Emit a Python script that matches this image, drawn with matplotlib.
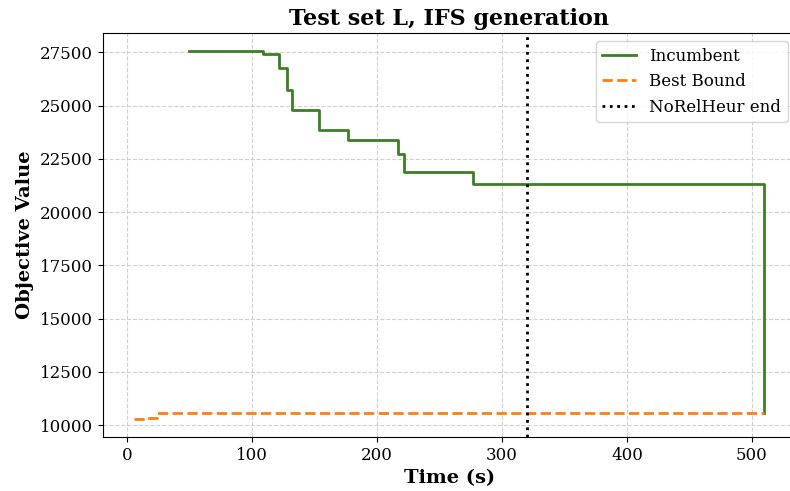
import matplotlib
matplotlib.use("Agg")
import matplotlib.pyplot as plt

plt.rcParams['font.family'] = 'DejaVu Serif'

# incumbent (step, post)
inc_time = [50, 109, 122, 128, 132, 154, 177, 217, 222, 277, 510, 510]
inc_val = [27550, 27420, 26780, 25720, 24810, 23870, 23400, 22710, 21870, 21300, 21300, 10570]

# best bound
bnd_time = [6, 16, 24, 510]
bnd_val = [10310, 10360, 10570, 10570]

norelheur_end = 320

fig, ax = plt.subplots(figsize=(7.9, 4.91), dpi=100)
ax.step(inc_time, inc_val, where='post', color='#3c7f25', linewidth=2, label='Incumbent')
ax.step(bnd_time, bnd_val, where='post', color='#ff7f0e', linewidth=2, linestyle='--', label='Best Bound')
ax.axvline(norelheur_end, color='black', linestyle=':', linewidth=2, label='NoRelHeur end')

ax.set_title('Test set L, IFS generation', fontsize=16, fontweight='bold')
ax.set_xlabel('Time (s)', fontsize=14, fontweight='bold')
ax.set_ylabel('Objective Value', fontsize=14, fontweight='bold')
ax.tick_params(labelsize=12)
ax.grid(True, linestyle='--', color='#cccccc', alpha=0.9)
ax.legend(fontsize=12, loc='upper right')

# right edge of the axes sits just past the image edge, as in the original
plt.subplots_adjust(left=0.130, right=1.0076, top=0.933, bottom=0.110)
plt.savefig('out.png')
